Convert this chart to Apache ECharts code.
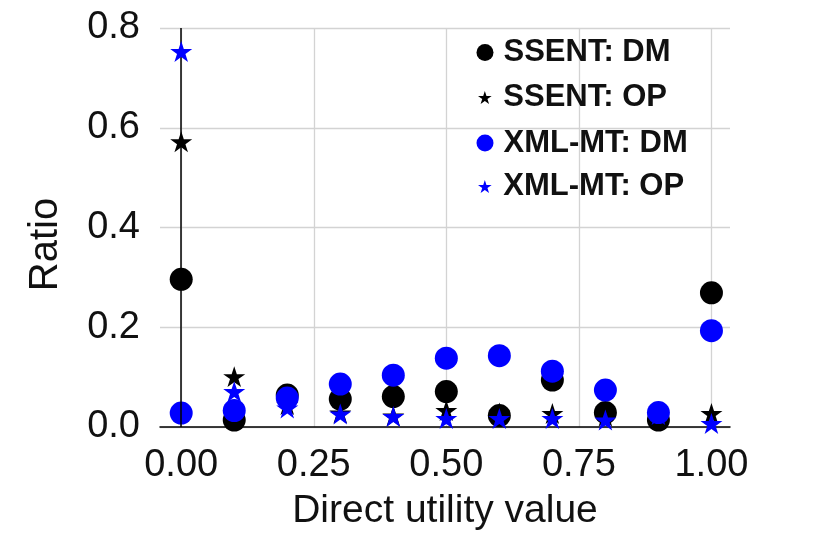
<!DOCTYPE html>
<html>
<head>
<meta charset="utf-8">
<script src="https://cdn.jsdelivr.net/npm/echarts@6/dist/echarts.min.js"></script>
<style>
html,body{margin:0;padding:0;background:#fff;}
#chart{width:830px;height:533px;}
</style>
</head>
<body>
<div id="chart"></div>
<script>
// ---- data ----
const xValues = [0, 0.1, 0.2, 0.3, 0.4, 0.5, 0.6, 0.7, 0.8, 0.9, 1.0];
const ssentDM = [0.296, 0.014, 0.064, 0.056, 0.061, 0.071, 0.023, 0.094, 0.029, 0.014, 0.269];
const ssentOP = [0.572, 0.101, 0.045, 0.028, 0.022, 0.033, 0.028, 0.027, 0.022, 0.025, 0.027];
const xmlDM   = [0.028, 0.033, 0.058, 0.086, 0.104, 0.138, 0.143, 0.112, 0.074, 0.029, 0.193];
const xmlOP   = [0.753, 0.071, 0.038, 0.026, 0.021, 0.017, 0.017, 0.017, 0.014, 0.025, 0.007];
const seriesNames = ['SSENT: DM', 'SSENT: OP', 'XML-MT: DM', 'XML-MT: OP'];
const xTicks = [0, 0.25, 0.5, 0.75, 1.0];
const yTicks = [0, 0.2, 0.4, 0.6, 0.8];

const STAR = 'path://M50 0 L61.23 34.55 L97.55 34.55 L68.17 55.9 L79.39 90.45 L50 69.1 L20.61 90.45 L31.83 55.9 L2.45 34.55 L38.77 34.55 Z';
const FONT = '"Liberation Sans", Arial, sans-serif';

function pts(ys){ return xValues.map((x,i)=>[x, ys[i]]); }

const chart = echarts.init(document.getElementById('chart'), null, {renderer:'canvas'});

function legendRow(name, top, isStar){
  return {
    data: [name],
    left: isStar ? 478 : 476.5,
    top: top,
    padding: 0,
    itemWidth: 27,
    itemHeight: isStar ? 13 : 17,
    selectedMode: false,
    textStyle: {fontFamily: FONT, fontWeight: 'bold', fontSize: 31, color: '#111'}
  };
}

const option = {
  animation: false,
  backgroundColor: '#fff',
  grid: {left: 160, right: 100, top: 28, bottom: 106, containLabel: false, outerBoundsMode: 'none'},
  legend: [
    legendRow(seriesNames[0], 37, false),
    legendRow(seriesNames[1], 82, true),
    legendRow(seriesNames[2], 127.5, false),
    legendRow(seriesNames[3], 171, true)
  ],
  xAxis: {
    type: 'value',
    min: -0.04,
    max: 1.035,
    name: 'Direct utility value',
    nameLocation: 'middle',
    nameGap: 65,
    nameTextStyle: {fontFamily: FONT, fontSize: 39, color: '#111'},
    axisLine: {show: true, onZero: false, lineStyle: {color: '#000', width: 1.5}},
    axisTick: {show: false, customValues: xTicks},
    axisLabel: {customValues: xTicks, margin: 20, fontFamily: FONT, fontSize: 38, color: '#111',
      formatter: v => v.toFixed(2)},
    splitLine: {show: true, lineStyle: {color: '#d3d3d3', width: 1.3}}
  },
  yAxis: {
    type: 'value',
    min: 0,
    max: 0.8,
    interval: 0.2,
    name: 'Ratio',
    nameLocation: 'middle',
    nameGap: 94,
    nameTextStyle: {fontFamily: FONT, fontSize: 40, color: '#111', padding: [0, 34, 0, 0]},
    axisLine: {show: false},
    axisTick: {show: false},
    axisLabel: {margin: 20, fontFamily: FONT, fontSize: 38, color: '#111',
      formatter: v => v.toFixed(1)},
    splitLine: {show: true, lineStyle: {color: '#d3d3d3', width: 1.3}}
  },
  series: [
    {
      name: seriesNames[0], type: 'scatter', data: pts(ssentDM),
      symbol: 'circle', symbolSize: 23, itemStyle: {color: '#000', opacity: 1}, z: 2,
      markLine: {
        silent: true, symbol: ['none','none'],
        label: {show: false},
        lineStyle: {color: '#000', width: 1.5, type: 'solid'},
        data: [{xAxis: 0}]
      }
    },
    {
      name: seriesNames[1], type: 'scatter', data: pts(ssentOP),
      symbol: STAR, symbolSize: 22, symbolKeepAspect: true, itemStyle: {color: '#000', opacity: 1}, z: 3
    },
    {
      name: seriesNames[2], type: 'scatter', data: pts(xmlDM),
      symbol: 'circle', symbolSize: 23, itemStyle: {color: '#0000ff', opacity: 1}, z: 4
    },
    {
      name: seriesNames[3], type: 'scatter', data: pts(xmlOP),
      symbol: STAR, symbolSize: 22, symbolKeepAspect: true, itemStyle: {color: '#0000ff', opacity: 1}, z: 5
    }
  ]
};
chart.setOption(option);
</script>
</body>
</html>
